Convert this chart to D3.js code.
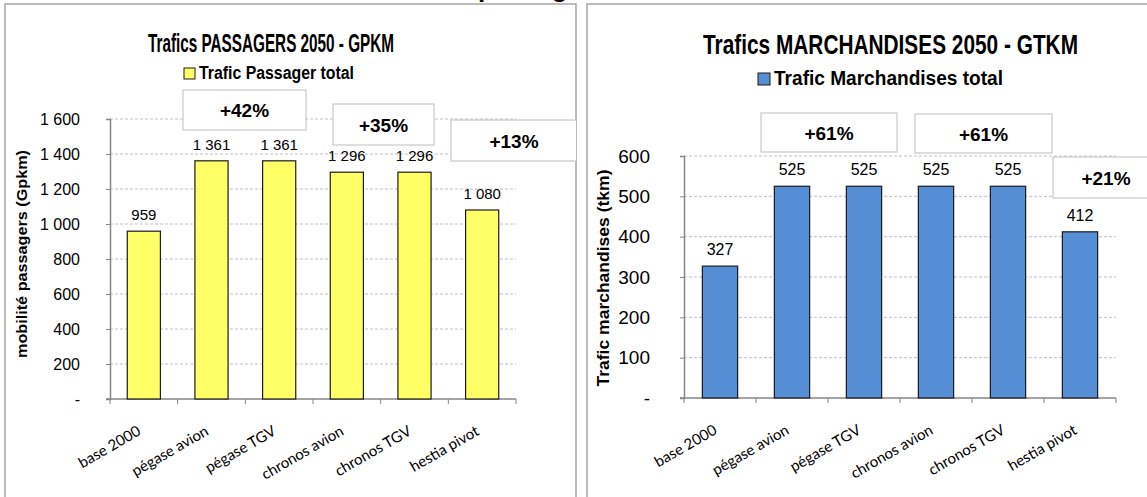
<!DOCTYPE html>
<html>
<head>
<meta charset="utf-8">
<script src="https://cdn.jsdelivr.net/npm/d3@7"></script>
<style>
  body { margin: 0; background: #fff; }
  svg { display: block; }
  text { font-family: "Liberation Sans", Arial, sans-serif; }
  .cat { font-family: Lato, "Open Sans", sans-serif; }
</style>
</head>
<body>
<div id="chart"></div>
<script>
// Categories shared by both charts
const categories = ["base 2000", "pégase avion", "pégase TGV", "chronos avion", "chronos TGV", "hestia pivot"];

// Passenger traffic 2050 (Gpkm)
const passengerValues = [959, 1361, 1361, 1296, 1296, 1080];
const passengerTicks = [0, 200, 400, 600, 800, 1000, 1200, 1400, 1600];
const passengerGains = ["+42%", "+35%", "+13%"];

// Freight traffic 2050 (Gtkm)
const freightValues = [327, 525, 525, 525, 525, 412];
const freightTicks = [0, 100, 200, 300, 400, 500, 600];
const freightGains = ["+61%", "+61%", "+21%"];

const width = 1147;
const height = 497;

// French style thousands: "1 361"
const fr = d3.formatLocale({ decimal: ",", thousands: " ", grouping: [3], currency: ["", ""] });
const fmt = fr.format(",d");

const svg = d3.select("#chart").append("svg")
    .attr("width", width)
    .attr("height", height);

// Heading of the page behind the charts, mostly cut off
svg.append("text")
    .attr("x", 478)
    .attr("y", -3)
    .attr("font-family", "Liberation Serif, serif")
    .attr("font-weight", "bold")
    .attr("font-size", 26)
    .text("passagers");

function drawChart(opt) {
  const g = svg.append("g");

  // panel frame
  g.append("rect")
      .attr("x", opt.panel[0]).attr("y", 4)
      .attr("width", opt.panel[1] - opt.panel[0]).attr("height", height + 10)
      .attr("fill", "#fff")
      .attr("stroke", "#a6a6a6")
      .attr("stroke-width", 1.5);

  const clipId = "clip" + opt.id;
  g.append("clipPath").attr("id", clipId)
    .append("rect")
      .attr("x", opt.panel[0]).attr("y", 4)
      .attr("width", opt.panel[1] - opt.panel[0]).attr("height", height);
  const inner = g.append("g").attr("clip-path", `url(#${clipId})`);

  const x = d3.scaleBand()
      .domain(categories)
      .range([opt.x0, opt.x1])
      .paddingInner(0.51)
      .paddingOuter(0.255);

  const y = d3.scaleLinear()
      .domain([0, opt.max])
      .range([opt.y0, opt.y1]);

  // gridlines
  inner.append("g")
    .selectAll("line")
    .data(opt.ticks.filter(d => d > 0))
    .join("line")
      .attr("x1", opt.x0).attr("x2", opt.x1)
      .attr("y1", d => y(d)).attr("y2", d => y(d))
      .attr("stroke", "#c0c0c0")
      .attr("stroke-dasharray", "3,2");

  // y axis
  const yAxis = inner.append("g")
      .attr("transform", `translate(${opt.x0},0)`)
      .call(d3.axisLeft(y).tickValues(opt.ticks).tickSize(4).tickPadding(opt.yPad)
        .tickFormat(d => d === 0 ? "-" : fmt(d)));
  yAxis.select(".domain").attr("stroke", "#868686").attr("stroke-width", 1.5);
  yAxis.selectAll(".tick line").attr("stroke", "#868686");
  yAxis.selectAll(".tick text")
      .attr("font-size", opt.tickSize)
      .attr("fill", "#000");

  // x axis
  const xAxis = inner.append("g")
      .attr("transform", `translate(0,${opt.y0})`)
      .call(d3.axisBottom(x).tickSize(0).tickFormat(""));
  xAxis.select(".domain").attr("stroke", "#868686").attr("stroke-width", 1.5)
      .attr("d", `M${opt.x0 - 4},0H${opt.x1}`);
  const bounds = categories.map(c => x(c) - x.step() * 0.255).concat([opt.x1]);
  xAxis.selectAll("line.sep")
    .data(bounds)
    .join("line")
      .attr("class", "sep")
      .attr("x1", d => d).attr("x2", d => d)
      .attr("y1", 0).attr("y2", 5)
      .attr("stroke", "#868686");

  // category labels
  inner.append("g")
    .selectAll("text")
    .data(categories)
    .join("text")
      .attr("class", "cat")
      .attr("transform", d => `translate(${x(d) + x.bandwidth() / 2 - 2},${opt.y0 + 35}) rotate(-30)`)
      .attr("text-anchor", "end")
      .attr("font-size", opt.catSize)
      .attr("fill", "#000")
      .text(d => d);

  // bars
  inner.append("g")
    .selectAll("rect")
    .data(opt.values)
    .join("rect")
      .attr("x", (d, i) => x(categories[i]))
      .attr("y", d => y(d))
      .attr("width", x.bandwidth())
      .attr("height", d => y(0) - y(d))
      .attr("fill", opt.color)
      .attr("stroke", "#1a1a1a")
      .attr("stroke-width", 1.2);

  // value labels
  inner.append("g")
    .selectAll("text")
    .data(opt.values)
    .join("text")
      .attr("x", (d, i) => x(categories[i]) + x.bandwidth() / 2)
      .attr("y", d => y(d) - 11)
      .attr("text-anchor", "middle")
      .attr("font-size", opt.labelSize)
      .text(d => fmt(d));

  // gain boxes
  const boxes = inner.append("g")
    .selectAll("g")
    .data(opt.gains)
    .join("g");
  boxes.append("rect")
      .attr("x", (d, i) => opt.boxes[i][0])
      .attr("y", (d, i) => opt.boxes[i][1])
      .attr("width", (d, i) => opt.boxes[i][2])
      .attr("height", (d, i) => opt.boxes[i][3])
      .attr("fill", "#fff")
      .attr("stroke", "#c8c8c8")
      .attr("stroke-width", 1.2);
  boxes.append("text")
      .attr("x", (d, i) => opt.boxes[i][0] + (opt.boxes[i][4] || opt.boxes[i][2] / 2))
      .attr("y", (d, i) => opt.boxes[i][1] + opt.boxes[i][3] / 2 + 7)
      .attr("text-anchor", "middle")
      .attr("font-size", opt.gainSize)
      .attr("font-weight", "bold")
      .text(d => d);

  // title
  inner.append("text")
      .attr("x", opt.title[1])
      .attr("y", opt.title[2])
      .attr("font-size", opt.title[4])
      .attr("font-weight", "bold")
      .attr("textLength", opt.title[3])
      .attr("lengthAdjust", "spacingAndGlyphs")
      .text(opt.title[0]);

  // legend
  inner.append("rect")
      .attr("x", opt.legend[1]).attr("y", opt.legend[2] - opt.legend[5])
      .attr("width", opt.legend[5]).attr("height", opt.legend[5])
      .attr("fill", opt.color)
      .attr("stroke", "#1a1a1a");
  inner.append("text")
      .attr("x", opt.legend[1] + opt.legend[5] + 4)
      .attr("y", opt.legend[2])
      .attr("font-size", opt.legend[4])
      .attr("font-weight", "bold")
      .attr("textLength", opt.legend[3])
      .attr("lengthAdjust", "spacingAndGlyphs")
      .text(opt.legend[0]);

  // y axis title
  inner.append("text")
      .attr("transform", `translate(${opt.yTitle[1]},${opt.yTitle[2]}) rotate(-90)`)
      .attr("text-anchor", "middle")
      .attr("font-size", opt.yTitle[4])
      .attr("font-weight", "bold")
      .attr("textLength", opt.yTitle[3])
      .attr("lengthAdjust", "spacingAndGlyphs")
      .text(opt.yTitle[0]);
}

drawChart({
  id: "p",
  panel: [5, 576],
  x0: 110, x1: 516, y0: 399, y1: 119, max: 1600,
  ticks: passengerTicks,
  values: passengerValues,
  gains: passengerGains,
  color: "#ffff66",
  yPad: 26, tickSize: 16, labelSize: 15, catSize: 15, gainSize: 19,
  boxes: [[183, 90, 123, 40], [333, 104, 101, 41], [451, 120, 140, 41, 63]],
  title: ["Trafics PASSAGERS 2050 - GPKM", 148, 52, 246, 26],
  legend: ["Trafic Passager total", 184, 79, 155, 18, 11],
  yTitle: ["mobilité passagers (Gpkm)", 27, 254, 208, 15]
});

drawChart({
  id: "m",
  panel: [587, 1160],
  x0: 684, x1: 1116, y0: 398, y1: 156, max: 600,
  ticks: freightTicks,
  values: freightValues,
  gains: freightGains,
  color: "#558ed5",
  yPad: 30, tickSize: 19, labelSize: 16, catSize: 15, gainSize: 19,
  boxes: [[761, 113, 136, 39], [915, 114, 137, 39], [1053, 157, 110, 41, 53]],
  title: ["Trafics MARCHANDISES 2050 - GTKM", 703, 54, 375, 28],
  legend: ["Trafic Marchandises total", 758, 85, 229, 20, 12],
  yTitle: ["Trafic marchandises (tkm)", 609, 278, 217, 17]
});
</script>
</body>
</html>
